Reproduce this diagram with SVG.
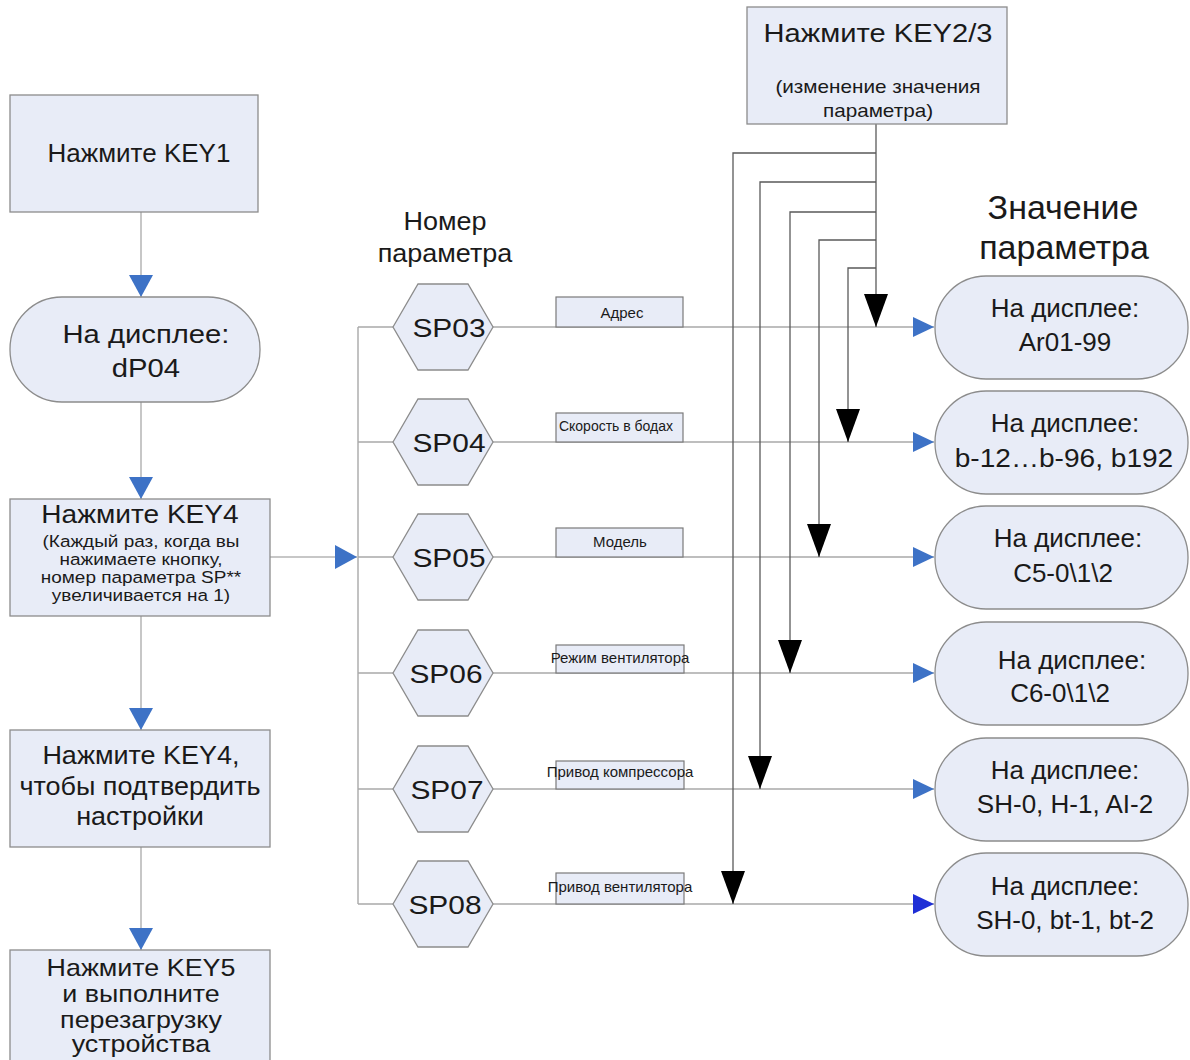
<svg xmlns="http://www.w3.org/2000/svg" width="1190" height="1060" viewBox="0 0 1190 1060">
<style>
  text { font-family: "Liberation Sans", Arial, sans-serif; fill: #1a1a1a; text-anchor: middle; }
  .box { fill: #e8ecf7; stroke: #8c8c8c; stroke-width: 1.3; }
  .lbl { fill: #e8ecf7; stroke: #7a7a7a; stroke-width: 1.2; }
  .flow { stroke: #b4b4b4; stroke-width: 1.5; fill: none; }
  .row { stroke: #a8a8a8; stroke-width: 1.4; fill: none; }
  .key { stroke: #5a5a5a; stroke-width: 1.3; fill: none; }
  .t26 { font-size: 26px; }
  .t25 { font-size: 25px; }
  .t24 { font-size: 24px; }
  .t17 { font-size: 16.5px; }
  .t18 { font-size: 18px; }
  .t15 { font-size: 15px; }
  .big { font-size: 34px; }
  .sx { transform-box: fill-box; transform-origin: center; }
  .sx108 { transform: scaleX(1.08); }
  .sx112 { transform: scaleX(1.12); }
  .sx115 { transform: scaleX(1.15); }
  .sx117 { transform: scaleX(1.17); }
</style>
<defs>
  <marker id="blueArrow" viewBox="0 0 22 24" refX="22" refY="12" markerWidth="22" markerHeight="24" markerUnits="userSpaceOnUse" orient="auto">
    <path d="M0,0 L22,12 L0,24 Z" fill="#3d72c6"/>
  </marker>
  <marker id="blueArrowS" viewBox="0 0 21 20" refX="21" refY="10" markerWidth="21" markerHeight="20" markerUnits="userSpaceOnUse" orient="auto">
    <path d="M0,0 L21,10 L0,20 Z" fill="#3d72c6"/>
  </marker>
  <marker id="blueArrowD" viewBox="0 0 21 20" refX="21" refY="10" markerWidth="21" markerHeight="20" markerUnits="userSpaceOnUse" orient="auto">
    <path d="M0,0 L21,10 L0,20 Z" fill="#1f2fd6"/>
  </marker>
  <marker id="blackArrow" viewBox="0 0 33 24" refX="33" refY="12" markerWidth="33" markerHeight="24" markerUnits="userSpaceOnUse" orient="auto">
    <path d="M0,0 L33,12 L0,24 Z" fill="#000"/>
  </marker>
</defs>
<rect width="1190" height="1060" fill="#ffffff"/>

<g id="connectors">
  <!-- left column -->
  <line class="flow" x1="141" y1="212" x2="141" y2="297" marker-end="url(#blueArrow)"/>
  <line class="flow" x1="141" y1="402" x2="141" y2="499" marker-end="url(#blueArrow)"/>
  <line class="flow" x1="141" y1="616" x2="141" y2="730" marker-end="url(#blueArrow)"/>
  <line class="flow" x1="141" y1="847" x2="141" y2="950" marker-end="url(#blueArrow)"/>
  <line class="flow" x1="270" y1="557" x2="357" y2="557" marker-end="url(#blueArrow)"/>
  <!-- bus -->
  <line class="row" x1="358" y1="327" x2="358" y2="904"/>
  <!-- rows -->
  <line class="row" x1="358" y1="327" x2="393" y2="327"/>
  <line class="row" x1="358" y1="442" x2="393" y2="442"/>
  <line class="row" x1="358" y1="557" x2="393" y2="557"/>
  <line class="row" x1="358" y1="673" x2="393" y2="673"/>
  <line class="row" x1="358" y1="789" x2="393" y2="789"/>
  <line class="row" x1="358" y1="904" x2="393" y2="904"/>
  <line class="row" x1="493" y1="327" x2="934" y2="327" marker-end="url(#blueArrowS)"/>
  <line class="row" x1="493" y1="442" x2="934" y2="442" marker-end="url(#blueArrowS)"/>
  <line class="row" x1="493" y1="557" x2="934" y2="557" marker-end="url(#blueArrowS)"/>
  <line class="row" x1="493" y1="673" x2="934" y2="673" marker-end="url(#blueArrowS)"/>
  <line class="row" x1="493" y1="789" x2="934" y2="789" marker-end="url(#blueArrowS)"/>
  <line class="row" x1="493" y1="904" x2="934" y2="904" marker-end="url(#blueArrowD)"/>
  <!-- KEY2/3 distribution -->
  <path class="key" d="M876,124 V327" marker-end="url(#blackArrow)"/>
  <path class="key" d="M876,268 H848 V442" marker-end="url(#blackArrow)"/>
  <path class="key" d="M876,240 H819 V557" marker-end="url(#blackArrow)"/>
  <path class="key" d="M876,212 H790 V673" marker-end="url(#blackArrow)"/>
  <path class="key" d="M876,182 H760 V789" marker-end="url(#blackArrow)"/>
  <path class="key" d="M876,153 H733 V904" marker-end="url(#blackArrow)"/>
</g>

<g id="key1">
  <rect class="box" x="10" y="95" width="248" height="117"/>
  <text class="t26" x="139" y="162">Нажмите KEY1</text>
</g>
<g id="display-dp04">
  <rect class="box" x="10" y="297" width="250" height="105" rx="52" ry="52"/>
  <text class="t25 sx sx117" x="146" y="343">На дисплее:</text>
  <text class="t25 sx sx117" x="146" y="377">dP04</text>
</g>
<g id="key4">
  <rect class="box" x="10" y="499" width="260" height="117"/>
  <text class="t26 sx sx108" x="140" y="523">Нажмите KEY4</text>
  <text class="t17 sx sx115" x="141" y="547">(Каждый раз, когда вы</text>
  <text class="t17 sx sx115" x="141" y="565">нажимаете кнопку,</text>
  <text class="t17 sx sx115" x="141" y="583">номер параметра SP**</text>
  <text class="t17 sx sx115" x="141" y="601">увеличивается на 1)</text>
</g>
<g id="key4-confirm">
  <rect class="box" x="10" y="730" width="260" height="117"/>
  <text class="t25 sx sx108" x="141" y="764">Нажмите KEY4,</text>
  <text class="t25 sx sx108" x="140" y="795">чтобы подтвердить</text>
  <text class="t25 sx sx108" x="140" y="825">настройки</text>
</g>
<g id="key5">
  <rect class="box" x="10" y="950" width="260" height="125"/>
  <text class="t24 sx sx112" x="141" y="976">Нажмите KEY5</text>
  <text class="t24 sx sx112" x="141" y="1002">и выполните</text>
  <text class="t24 sx sx112" x="141" y="1028">перезагрузку</text>
  <text class="t24 sx sx112" x="141" y="1052">устройства</text>
</g>

<g id="key23">
  <rect class="box" x="747" y="7" width="260" height="117"/>
  <text class="t26 sx sx112" x="878" y="42">Нажмите KEY2/3</text>
  <text class="t18 sx sx115" x="878" y="93">(изменение значения</text>
  <text class="t18 sx sx115" x="878" y="117">параметра)</text>
</g>

<g id="header-number">
  <text class="t25 sx sx108" x="445" y="230">Номер</text>
  <text class="t25 sx sx108" x="445" y="262">параметра</text>
</g>
<g id="header-value">
  <text class="big" x="1063" y="219">Значение</text>
  <text class="big" x="1064" y="259">параметра</text>
</g>

<g id="sp03">
  <polygon class="box" points="393,327 418,284 468,284 493,327 468,370 418,370"/>
  <text class="t26 sx sx115" x="449" y="337">SP03</text>
</g>
<g id="sp04">
  <polygon class="box" points="393,442 418,399 468,399 493,442 468,485 418,485"/>
  <text class="t26 sx sx115" x="449" y="452">SP04</text>
</g>
<g id="sp05">
  <polygon class="box" points="393,557 418,514 468,514 493,557 468,600 418,600"/>
  <text class="t26 sx sx115" x="449" y="567">SP05</text>
</g>
<g id="sp06">
  <polygon class="box" points="393,673 418,630 468,630 493,673 468,716 418,716"/>
  <text class="t26 sx sx115" x="446" y="683">SP06</text>
</g>
<g id="sp07">
  <polygon class="box" points="393,789 418,746 468,746 493,789 468,832 418,832"/>
  <text class="t26 sx sx115" x="447" y="799">SP07</text>
</g>
<g id="sp08">
  <polygon class="box" points="393,904 418,861 468,861 493,904 468,947 418,947"/>
  <text class="t26 sx sx115" x="445" y="914">SP08</text>
</g>

<g id="lbl-sp03">
  <rect class="lbl" x="556" y="297" width="127" height="30"/>
  <text class="t15" x="622" y="318">Адрес</text>
</g>
<g id="lbl-sp04">
  <rect class="lbl" x="556" y="413" width="127" height="29"/>
  <text style="font-size:14px" x="616" y="431">Скорость в бодах</text>
</g>
<g id="lbl-sp05">
  <rect class="lbl" x="556" y="528" width="127" height="29"/>
  <text class="t15" x="620" y="547">Модель</text>
</g>
<g id="lbl-sp06">
  <rect class="lbl" x="556" y="645" width="128" height="28"/>
  <text class="t15" x="620" y="663">Режим вентилятора</text>
</g>
<g id="lbl-sp07">
  <rect class="lbl" x="556" y="761" width="128" height="28"/>
  <text class="t15" x="620" y="777">Привод компрессора</text>
</g>
<g id="lbl-sp08">
  <rect class="lbl" x="556" y="873" width="128" height="31"/>
  <text class="t15" x="620" y="892">Привод вентилятора</text>
</g>

<g id="val-sp03">
  <rect class="box" x="935" y="276" width="253" height="103" rx="51" ry="51"/>
  <text class="t26" x="1065" y="317">На дисплее:</text>
  <text class="t26" x="1065" y="351">Ar01-99</text>
</g>
<g id="val-sp04">
  <rect class="box" x="935" y="391" width="253" height="103" rx="51" ry="51"/>
  <text class="t26" x="1065" y="432">На дисплее:</text>
  <text class="t26 sx sx108" x="1064" y="467">b-12…b-96, b192</text>
</g>
<g id="val-sp05">
  <rect class="box" x="935" y="506" width="253" height="103" rx="51" ry="51"/>
  <text class="t26" x="1068" y="547">На дисплее:</text>
  <text class="t26" x="1063" y="582">C5-0\1\2</text>
</g>
<g id="val-sp06">
  <rect class="box" x="935" y="622" width="253" height="103" rx="51" ry="51"/>
  <text class="t26" x="1072" y="669">На дисплее:</text>
  <text class="t26" x="1060" y="702">C6-0\1\2</text>
</g>
<g id="val-sp07">
  <rect class="box" x="935" y="738" width="253" height="103" rx="51" ry="51"/>
  <text class="t26" x="1065" y="779">На дисплее:</text>
  <text class="t26" x="1065" y="813">SH-0, H-1, AI-2</text>
</g>
<g id="val-sp08">
  <rect class="box" x="935" y="853" width="253" height="103" rx="51" ry="51"/>
  <text class="t26" x="1065" y="895">На дисплее:</text>
  <text class="t26" x="1065" y="929">SH-0, bt-1, bt-2</text>
</g>
</svg>
